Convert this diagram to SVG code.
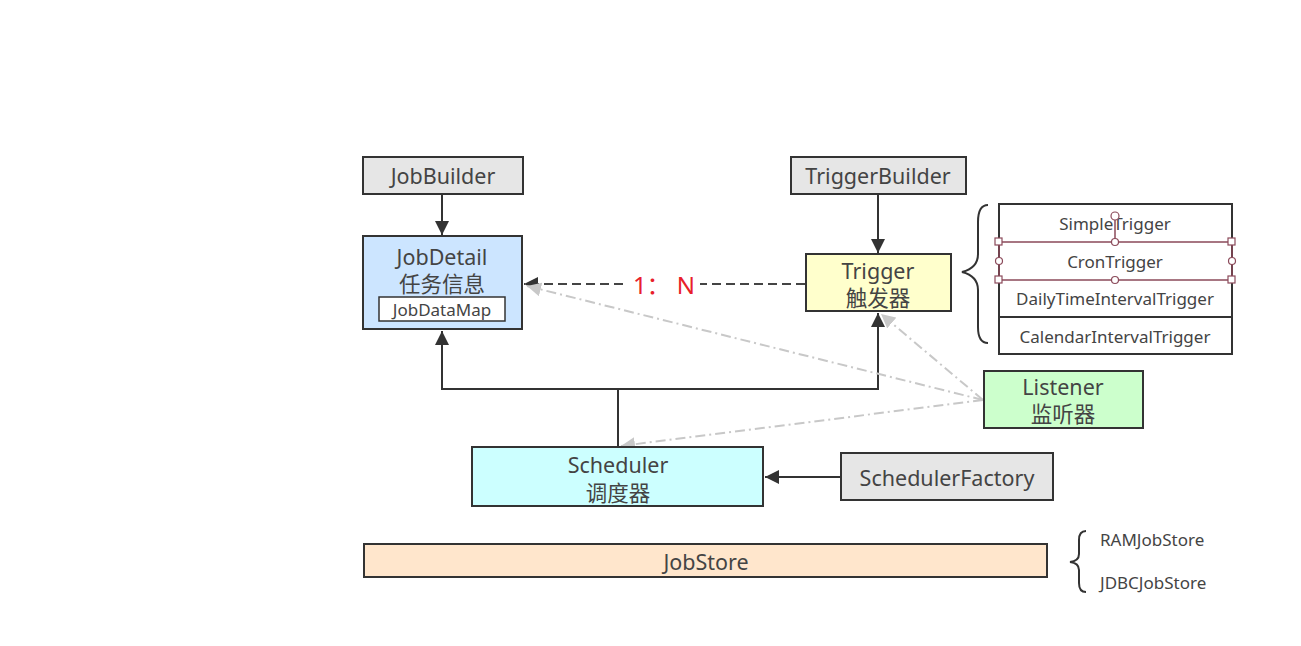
<svg xmlns="http://www.w3.org/2000/svg" width="1301" height="646" viewBox="0 0 1301 646">
<style>
text{font-family:"Noto Sans","Noto Sans CJK SC",sans-serif;fill:#444;text-anchor:middle;dominant-baseline:central}
.big{font-size:21.5px}
.sm{font-size:17px}
.box{stroke:#333;stroke-width:2}
.ln{fill:none;stroke:#333;stroke-width:2}
.dd{fill:none;stroke:#c8c8c8;stroke-width:2;stroke-dasharray:10 4 2 4}
.sel{fill:none;stroke:#8b4a5a;stroke-width:1.5}
.h{fill:#fff;stroke:#8b4a5a;stroke-width:1.2}
</style>
<defs>
<marker id="ab" viewBox="0 0 10 10" refX="10" refY="5" markerWidth="14" markerHeight="14" orient="auto" markerUnits="userSpaceOnUse"><path d="M0,0 L10,5 L0,10 z" fill="#333"/></marker>
<marker id="g" viewBox="0 0 10 10" refX="10" refY="5" markerWidth="14" markerHeight="14" orient="auto" markerUnits="userSpaceOnUse"><path d="M0,0 L10,5 L0,10 z" fill="#c8c8c8"/></marker>
</defs>
<rect width="1301" height="646" fill="#fff"/>
<g id="connectors">
<line class="ln" x1="442" y1="195" x2="442" y2="235" marker-end="url(#ab)"/>
<line class="ln" x1="878" y1="195" x2="878" y2="253" marker-end="url(#ab)"/>
<line x1="805" y1="284" x2="524" y2="284" stroke="#444" stroke-width="2.2" stroke-dasharray="9 5" marker-end="url(#ab)"/>
<polyline class="ln" points="618,446 618,389 442,389 442,331" marker-end="url(#ab)"/>
<polyline class="ln" points="618,389 878,389 878,313" marker-end="url(#ab)"/>
<line class="ln" x1="840" y1="477" x2="765" y2="477" marker-end="url(#ab)"/>
<line class="dd" x1="983" y1="400" x2="527" y2="286" marker-end="url(#g)"/>
<line class="dd" x1="983" y1="400" x2="881" y2="314" marker-end="url(#g)"/>
<line class="dd" x1="983" y1="400" x2="621" y2="446" marker-end="url(#g)"/>
<rect x="628" y="270" width="72" height="28" fill="#fff"/>
<text x="664" y="284" style="font-size:24px;fill:#e8202a">1： N</text>
</g>
<g id="JobBuilder"><rect class="box" x="363" y="157" width="160" height="37" fill="#e6e6e6"/><text class="big" x="443" y="175">JobBuilder</text></g>
<g id="JobDetail"><rect class="box" x="363" y="236" width="159" height="93" fill="#cce5ff"/><text class="big" x="442" y="256">JobDetail</text><text class="big" x="442" y="283">任务信息</text>
<rect x="379" y="297" width="126" height="24" fill="#fff" stroke="#333" stroke-width="1.5"/><text class="sm" x="442" y="309">JobDataMap</text></g>
<g id="TriggerBuilder"><rect class="box" x="791" y="157" width="175" height="37" fill="#e6e6e6"/><text class="big" x="878" y="175">TriggerBuilder</text></g>
<g id="Trigger"><rect class="box" x="806" y="254" width="145" height="57" fill="#ffffcc"/><text class="big" x="878" y="270">Trigger</text><text class="big" x="878" y="297">触发器</text></g>
<g id="TriggerTypes">
<path class="ln" d="M988,205 Q978,205 978,222 L978,254 Q978,268 962,272 Q978,276 978,290 L978,327 Q978,343 988,343" stroke-width="1.8"/>
<rect x="999" y="204" width="233" height="150" fill="#fff" stroke="#333" stroke-width="2"/>
<line class="ln" x1="999" y1="317" x2="1232" y2="317"/>
<text class="sm" x="1115" y="223">SimpleTrigger</text>
<text class="sm" x="1115" y="261">CronTrigger</text>
<text class="sm" x="1115" y="298">DailyTimeIntervalTrigger</text>
<text class="sm" x="1115" y="336">CalendarIntervalTrigger</text>
<rect class="sel" x="999" y="242" width="233" height="38"/>
<line class="sel" x1="1115" y1="219" x2="1115" y2="242"/>
<circle class="h" cx="1115" cy="216" r="4"/>
<rect class="h" x="995" y="238" width="7" height="7"/><rect class="h" x="1228" y="238" width="7" height="7"/>
<rect class="h" x="995" y="276" width="7" height="7"/><rect class="h" x="1228" y="276" width="7" height="7"/>
<circle class="h" cx="1115" cy="242" r="3.5"/><circle class="h" cx="1115" cy="280" r="3.5"/>
<circle class="h" cx="999" cy="261" r="3.5"/><circle class="h" cx="1232" cy="261" r="3.5"/>
</g>
<g id="Listener"><rect class="box" x="984" y="371" width="159" height="57" fill="#ccffcc"/><text class="big" x="1063" y="386">Listener</text><text class="big" x="1063" y="413">监听器</text></g>
<g id="Scheduler"><rect class="box" x="472" y="447" width="291" height="59" fill="#ccffff"/><text class="big" x="618" y="464">Scheduler</text><text class="big" x="618" y="492">调度器</text></g>
<g id="SchedulerFactory"><rect class="box" x="841" y="453" width="212" height="47" fill="#e6e6e6"/><text class="big" x="947" y="477">SchedulerFactory</text></g>
<g id="JobStore"><rect class="box" x="364" y="544" width="683" height="33" fill="#ffe6cc"/><text class="big" x="706" y="561">JobStore</text></g>
<g id="JobStoreTypes">
<path class="ln" d="M1086,531 Q1079,531 1079,540 L1079,554 Q1079,561 1070,562 Q1079,563 1079,570 L1079,583 Q1079,592 1086,592" stroke-width="1.8"/>
<text class="sm" x="1100" y="539" style="text-anchor:start">RAMJobStore</text>
<text class="sm" x="1100" y="582" style="text-anchor:start">JDBCJobStore</text>
</g>
</svg>
